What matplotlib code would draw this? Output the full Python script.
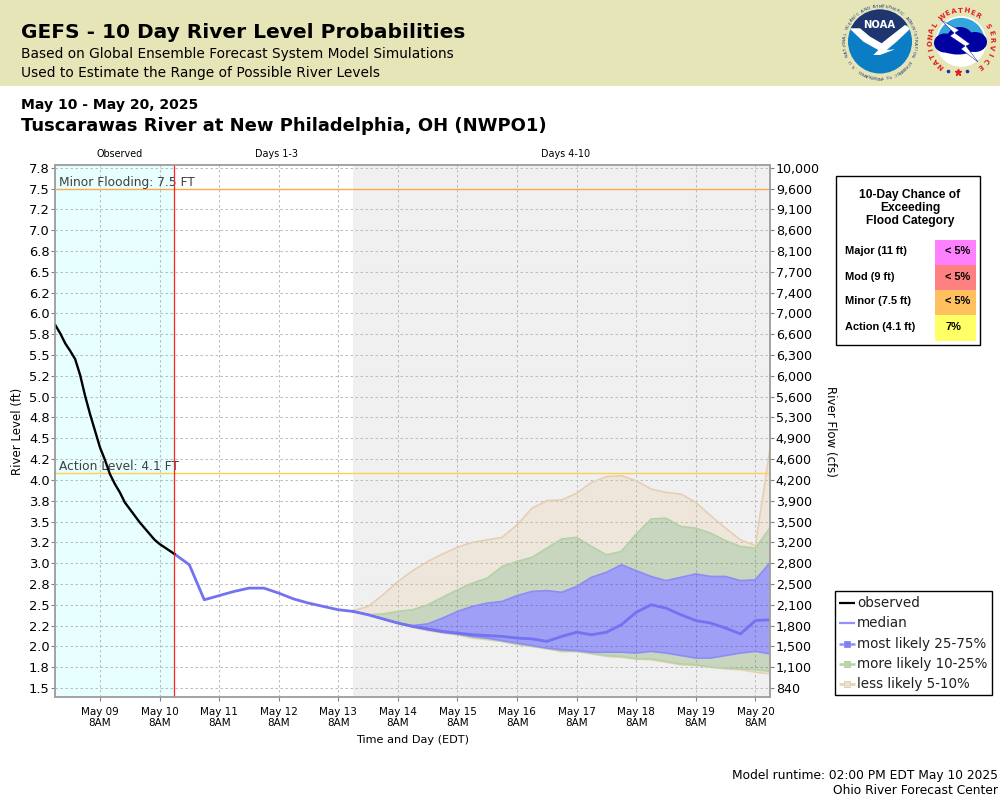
import numpy as np
import pandas as pd
import matplotlib
matplotlib.use('Agg')
import matplotlib.pyplot as plt
from matplotlib.patches import Circle, Ellipse, Polygon, Rectangle

# observed stage, every 2 hours
obs_level = [5.86, 5.76, 5.64, 5.55, 5.45, 5.26, 5.01, 4.79, 4.59, 4.39, 4.24, 4.07, 3.95,
             3.85, 3.73, 3.65, 3.57, 3.49, 3.42, 3.35, 3.28, 3.23, 3.19, 3.15, 3.11]

# median before the ensemble spreads, every 6 hours
early_median = [3.11, 2.98, 2.56, 2.61, 2.66, 2.70, 2.70, 2.64, 2.57, 2.52, 2.48, 2.44]

# every 6 hours from May 13 2PM
median = [2.42, 2.38, 2.33, 2.28, 2.24, 2.21, 2.18, 2.16, 2.14, 2.13, 2.12, 2.10, 2.09, 2.06, 2.12,
          2.17, 2.14, 2.17, 2.26, 2.41, 2.50, 2.46, 2.38, 2.31, 2.28, 2.22, 2.15, 2.31, 2.32]
p25 = [2.42, 2.38, 2.33, 2.28, 2.24, 2.20, 2.17, 2.15, 2.12, 2.10, 2.07, 2.04, 2.01, 1.98, 1.96,
       1.95, 1.93, 1.93, 1.93, 1.92, 1.94, 1.92, 1.89, 1.86, 1.86, 1.89, 1.92, 1.94, 1.91]
p75 = [2.42, 2.38, 2.33, 2.28, 2.25, 2.27, 2.34, 2.42, 2.48, 2.52, 2.54, 2.61, 2.66, 2.67, 2.65,
       2.72, 2.83, 2.89, 2.98, 2.91, 2.84, 2.79, 2.83, 2.87, 2.84, 2.84, 2.79, 2.80, 3.01]
p10 = [2.42, 2.38, 2.33, 2.28, 2.23, 2.20, 2.17, 2.14, 2.11, 2.09, 2.06, 2.03, 2.00, 1.98, 1.94,
       1.94, 1.92, 1.89, 1.88, 1.85, 1.85, 1.82, 1.79, 1.78, 1.75, 1.74, 1.73, 1.72, 1.70]
p90 = [2.42, 2.38, 2.39, 2.42, 2.44, 2.50, 2.59, 2.68, 2.76, 2.82, 2.96, 3.02, 3.07, 3.18, 3.29,
       3.31, 3.20, 3.10, 3.14, 3.35, 3.53, 3.54, 3.44, 3.42, 3.36, 3.27, 3.20, 3.18, 3.43]
p5 = [2.42, 2.38, 2.33, 2.28, 2.23, 2.19, 2.16, 2.14, 2.10, 2.08, 2.06, 2.02, 2.00, 1.97, 1.94,
      1.94, 1.91, 1.88, 1.87, 1.85, 1.84, 1.81, 1.78, 1.77, 1.75, 1.73, 1.72, 1.69, 1.67]
p95 = [2.43, 2.48, 2.62, 2.78, 2.91, 3.02, 3.11, 3.19, 3.25, 3.28, 3.31, 3.46, 3.66, 3.75, 3.76,
       3.84, 3.97, 4.04, 4.05, 3.99, 3.89, 3.85, 3.83, 3.73, 3.57, 3.42, 3.28, 3.21, 4.40]

level_ticks = [7.75 - 0.25 * i for i in range(26)]
level_labels = ['7.8', '7.5', '7.2', '7.0', '6.8', '6.5', '6.2', '6.0', '5.8', '5.5', '5.2', '5.0', '4.8',
                '4.5', '4.2', '4.0', '3.8', '3.5', '3.2', '3.0', '2.8', '2.5', '2.2', '2.0', '1.8', '1.5']
flow_labels = ['10,000', '9,600', '9,100', '8,600', '8,100', '7,700', '7,400', '7,000', '6,600', '6,300',
               '6,000', '5,600', '5,300', '4,900', '4,600', '4,200', '3,900', '3,500', '3,200', '2,800',
               '2,500', '2,100', '1,800', '1,500', '1,100', '840']

flood_names = ['Major (11 ft)', 'Mod (9 ft)', 'Minor (7.5 ft)', 'Action (4.1 ft)']
flood_chance = ['< 5%', '< 5%', '< 5%', '7%']
flood_colors = ['#ff80ff', '#ff8080', '#ffc060', '#ffff66']

obs_times = pd.date_range('2025-05-08 14:00', '2025-05-10 14:00', freq='2h')
early_times = pd.date_range('2025-05-10 14:00', '2025-05-13 08:00', freq='6h')
times = pd.date_range('2025-05-13 14:00', '2025-05-20 14:00', freq='6h')
day_ticks = pd.date_range('2025-05-09 08:00', '2025-05-20 08:00', freq='D')

BLUE = (10 / 255, 10 / 255, 1, 0.35)
GREEN = (40 / 255, 110 / 255, 0, 0.2)
TAN = (230 / 255, 190 / 255, 135 / 255, 0.2)
LINE_BLUE = '#7272f2'


def px(s):
    # pixel size to points at dpi 100
    return s * 0.72


def ring_text(ax, s, cx, cy, r, a0, a1, **kw):
    # letters around a circle, angles in degrees clockwise from the top
    for ch, a in zip(s, np.linspace(a0, a1, len(s))):
        t = np.radians(a)
        ax.text(cx + r * np.sin(t), cy - r * np.cos(t), ch, rotation=-a,
                ha='center', va='center', **kw)


def noaa_logo(ax):
    cx, cy, r = 880, 41.5, 32
    circ = Circle((cx, cy), r, fc='#0a7dc4', ec='none', zorder=3)
    ax.add_patch(circ)
    z = lambda pts: [(840 + a / 3, b / 3) for a, b in pts]
    navy = Polygon(z([(20, 20), (220, 20), (220, 75), (195, 75), (150, 110), (125, 130), (90, 110),
                      (60, 85), (20, 85)]), fc='#1f3570', ec='none', zorder=4)
    ax.add_patch(navy)
    navy.set_clip_path(circ)
    bird = Polygon(z([(28, 85), (60, 85), (90, 110), (125, 130), (150, 110), (195, 75), (212, 85),
                      (170, 125), (140, 150), (165, 148), (120, 165), (100, 165), (115, 150), (70, 125)]),
                   fc='white', ec='none', zorder=5)
    ax.add_patch(bird)
    bird.set_clip_path(circ)
    ax.text(cx - 0.5, 25, 'NOAA', color='white', fontsize=px(10), fontweight='bold',
            ha='center', va='center', zorder=6)
    ring_text(ax, 'NATIONAL OCEANIC AND ATMOSPHERIC ADMINISTRATION', cx, cy, 35, -112, 112,
              color='#1f3570', fontsize=px(4.2), zorder=6)
    ring_text(ax, 'U.S. DEPARTMENT OF COMMERCE', cx, cy, 35, 235, 125,
              color='#1f3570', fontsize=px(4.2), zorder=6)


def nws_logo(ax):
    cx, cy = 961, 41.5
    sky = Circle((cx, cy), 24.5, fc='#35a5dc', ec='white', lw=1.2, zorder=4)
    ax.add_patch(sky)
    low = Rectangle((cx - 25, 49), 50, 20, fc='white', ec='none', zorder=4.5)
    ax.add_patch(low)
    low.set_clip_path(sky)
    for x, y, w, h in [(945, 43, 22, 19), (960, 38, 26, 22), (975, 42, 24, 20), (958, 47, 36, 15)]:
        ax.add_patch(Ellipse((x, y), w, h, fc='#0000a0', ec='none', zorder=5))
    ax.add_patch(Polygon([(941, 20), (959, 30), (955, 33), (970, 44), (966, 46), (978, 62), (961, 49),
                          (965, 46), (950, 36), (954, 33)], fc='white', ec='#0000a0', lw=0.3, zorder=6))
    kw = dict(color='#e02020', fontsize=px(7), fontweight='bold', zorder=6)
    ring_text(ax, 'NATIONAL', cx, cy, 31, -140, -57, **kw)
    ring_text(ax, 'WEATHER', cx, cy, 31, -37, 33, **kw)
    ring_text(ax, 'SERVICE', cx, cy, 31, 60, 142, **kw)
    ax.plot([948, 967], [71, 71], ls='none', marker='o', ms=1.6, color='#2030a0', zorder=6)
    ax.plot([958], [72], ls='none', marker='*', ms=5, color='#e02020', zorder=6)


fig = plt.figure(figsize=(10, 8), dpi=100, facecolor='white')

# main plot
ax = fig.add_axes([55.3 / 1000, 1 - 697 / 800, (770.3 - 55.3) / 1000, (697 - 164.5) / 800])
ax.set_xlim(pd.Timestamp('2025-05-08 14:00'), pd.Timestamp('2025-05-20 14:00'))
ax.set_ylim(1.392, 7.789)
ax.axvspan(pd.Timestamp('2025-05-08 14:00'), pd.Timestamp('2025-05-10 14:00'), fc='#e8ffff', ec='none', zorder=0)
ax.axvspan(pd.Timestamp('2025-05-13 14:00'), pd.Timestamp('2025-05-20 14:00'), fc='#f0f0f0', ec='none', zorder=0)
ax.grid(True, color='#bdbdbd', ls=(0, (2.4, 2.4)), lw=0.75, zorder=1)
ax.set_axisbelow(True)

ax.fill_between(times, p5, p10, fc=TAN, ec='none', zorder=1.6)
ax.fill_between(times, p90, p95, fc=TAN, ec='none', zorder=1.6)
ax.fill_between(times, p10, p25, fc=GREEN, ec='none', zorder=1.6)
ax.fill_between(times, p75, p90, fc=GREEN, ec='none', zorder=1.6)
ax.fill_between(times, p25, p75, fc=BLUE, ec='none', zorder=1.6)
for s, c in [(p5, '#e6cfb4'), (p95, '#e6cfb4'), (p10, '#b4d2a5'), (p90, '#b4d2a5'), (p25, '#8c8cf5'), (p75, '#8c8cf5')]:
    ax.plot(times, s, color=c, lw=1.2, zorder=1.7)

ax.axhline(7.5, color='#ffa850', lw=1.0, zorder=2)
ax.axhline(4.08, color='#ffd050', lw=1.0, zorder=2)
ax.text(0.005, 7.5 + 0.07, 'Minor Flooding: 7.5 FT', transform=ax.get_yaxis_transform(),
        fontsize=px(12.3), color='#404040', va='center', ha='left')
ax.text(0.005, 4.08 + 0.08, 'Action Level: 4.1 FT', transform=ax.get_yaxis_transform(),
        fontsize=px(12.3), color='#404040', va='center', ha='left')

ax.plot(list(early_times) + list(times[:1]), early_median + median[:1], color=LINE_BLUE, lw=2, zorder=3)
ax.plot(times, median, color=LINE_BLUE, lw=2, zorder=3)
ax.plot(obs_times, obs_level, color='black', lw=1.7, zorder=4)
ax.axvline(pd.Timestamp('2025-05-10 14:00'), color='#ff2020', lw=0.9, zorder=5)

ax.set_xticks(day_ticks)
ax.set_xticklabels([d.strftime('%b %d') + '\n8AM' for d in day_ticks], fontsize=px(10.4), linespacing=1.2)
ax.set_yticks(level_ticks)
ax.set_yticklabels(level_labels, fontsize=px(13))
ax.tick_params(axis='x', length=3, width=0.8, color='#808080', pad=4)
ax.tick_params(axis='y', length=3, width=0.8, color='#808080', pad=1)
for sp in ax.spines.values():
    sp.set_color('#a0a0a0')
    sp.set_linewidth(1.1)

ax2 = ax.twinx()
ax2.set_ylim(ax.get_ylim())
ax2.set_yticks(level_ticks)
ax2.set_yticklabels(flow_labels, fontsize=px(12.6))
ax2.tick_params(axis='y', length=3, width=0.8, color='#808080', pad=1)
for sp in ax2.spines.values():
    sp.set_color('#a0a0a0')
    sp.set_linewidth(1.1)

# everything around the plot, in image pixels
page = fig.add_axes([0, 0, 1, 1], zorder=10)
page.set_xlim(0, 1000)
page.set_ylim(800, 0)
page.axis('off')
page.patch.set_alpha(0)

page.add_patch(Rectangle((0, 0), 1000, 86, fc='#e5e5b8', ec='none', zorder=1))
noaa_logo(page)
nws_logo(page)

page.text(21, 33, 'GEFS - 10 Day River Level Probabilities', fontsize=px(20.2), fontweight='bold', va='center')
page.text(21, 54, 'Based on Global Ensemble Forecast System Model Simulations', fontsize=px(13.8), va='center')
page.text(21, 73, 'Used to Estimate the Range of Possible River Levels', fontsize=px(13.8), va='center')
page.text(21, 105, 'May 10 - May 20, 2025', fontsize=px(14), fontweight='bold', va='center')
page.text(21, 126, 'Tuscarawas River at New Philadelphia, OH (NWPO1)', fontsize=px(18), fontweight='bold', va='center')

page.text(120, 154, 'Observed', fontsize=px(9.7), ha='center', va='center')
page.text(276.5, 154, 'Days 1-3', fontsize=px(9.7), ha='center', va='center')
page.text(566, 154, 'Days 4-10', fontsize=px(9.7), ha='center', va='center')

page.text(18, 431, 'River Level (ft)', fontsize=px(11.8), rotation=90, ha='center', va='center')
page.text(831, 431, 'River Flow (cfs)', fontsize=px(11.8), rotation=-90, ha='center', va='center')
page.text(413, 740, 'Time and Day (EDT)', fontsize=px(11.3), ha='center', va='center')

page.text(998, 776, 'Model runtime: 02:00 PM EDT May 10 2025', fontsize=px(12.2), ha='right', va='center')
page.text(998, 791, 'Ohio River Forecast Center', fontsize=px(12.2), ha='right', va='center')

# flood chance box
page.add_patch(Rectangle((836.3, 176.3), 143.7, 169, fc='white', ec='black', lw=1, zorder=1))
for i, line in enumerate(['10-Day Chance of', 'Exceeding', 'Flood Category']):
    page.text(910, 195 + 13 * i, line, family='Liberation Sans', fontweight='bold', fontsize=px(12),
              ha='center', va='center')
for i, (name, val, col) in enumerate(zip(flood_names, flood_chance, flood_colors)):
    y0 = 240 + 25 * i
    page.add_patch(Rectangle((935, y0), 41, 26 if i == 3 else 25, fc=col, ec='none', zorder=1))
    page.text(845, y0 + 11.5, name, family='Liberation Sans', fontweight='bold', fontsize=px(11), va='center')
    page.text(945, y0 + 11.5, val, family='Liberation Sans', fontweight='bold', fontsize=px(11), va='center')

# series legend
page.add_patch(Rectangle((835.3, 591.3), 156.5, 103.7, fc='white', ec='black', lw=1, zorder=1))
legend_rows = [('observed', 'black', None), ('median', '#9090ff', None),
               ('most likely 25-75%', '#9090f8', '#8080f0'),
               ('more likely 10-25%', '#b4d2a5', '#b8d8a8'),
               ('less likely 5-10%', '#e6cfb4', '#ecdfcf')]
for i, (name, c, mc) in enumerate(legend_rows):
    y = 603 + 20.3 * i
    page.plot([838.5, 855], [y, y], color=c, lw=1.6 if mc is None else 1.8, zorder=2, solid_capstyle='butt')
    if mc is not None:
        page.plot([846.7], [y], ls='none', marker='s', ms=5, mfc=mc, mec=c, mew=0.7, zorder=3)
    page.text(857, y, name, fontsize=px(13.5), va='center', color='#202020')

fig.savefig('out.png', dpi=100)
